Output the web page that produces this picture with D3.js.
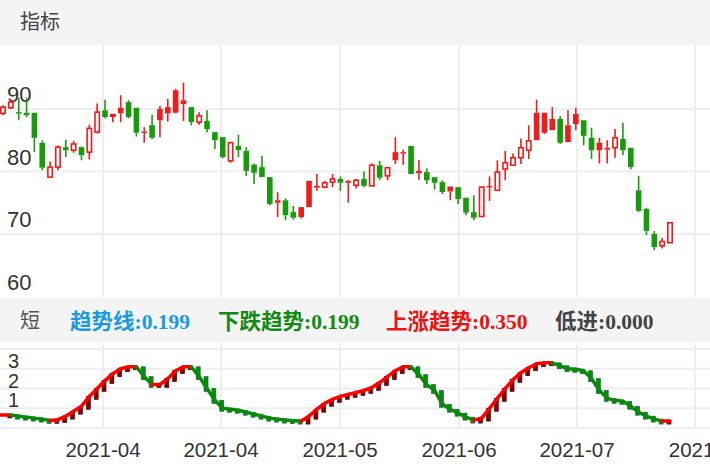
<!DOCTYPE html>
<html><head><meta charset="utf-8">
<script src="https://cdn.jsdelivr.net/npm/d3@7"></script>
<style>body{margin:0;background:#fff}svg{display:block}</style>
</head><body>
<svg id="c" width="710" height="472"></svg>
<script>
// OHLC per candle
const opens  = [89.3,90.2,89.5,89.4,89.4,84.6,79.1,80.7,83.9,83.4,83.9,83.1,86.3,89.8,89.0,90.2,91.1,90.2,86.4,87.4,90.0,90.3,93.0,91.4,90.3,87.9,88.1,86.3,85.5,81.7,84.1,83.3,81.1,80.7,79.1,75.4,75.4,73.5,74.3,78.5,77.7,77.5,78.3,78.8,78.5,77.8,78.8,77.7,81.0,79.3,83.1,83.1,84.1,80.1,79.9,79.1,78.3,77.6,77.5,75.8,73.5,72.8,77.7,77.0,80.4,81.0,82.2,83.4,89.4,89.4,88.4,88.4,87.4,89.2,88.2,85.4,84.6,83.8,83.8,85.2,83.8,77.0,74.0,70.0,68.1,68.6];
const closes = [90.3,91.1,89.3,89.0,85.4,80.6,80.7,83.9,83.4,84.4,82.6,86.9,89.5,88.7,89.1,89.3,88.7,86.2,86.3,85.4,88.2,89.3,89.4,90.8,87.9,88.9,86.8,85.0,82.3,84.6,83.4,80.1,79.8,79.1,74.8,75.0,73.0,72.6,72.7,74.3,77.4,78.2,78.8,78.2,78.2,78.6,77.7,81.0,79.0,80.6,81.8,82.9,79.6,79.7,78.6,78.2,76.7,76.8,75.6,73.4,72.6,77.5,77.5,79.9,81.4,82.2,83.8,84.9,85.0,86.2,86.6,84.6,84.7,87.6,85.7,83.4,83.4,83.5,85.4,83.4,80.7,73.7,70.5,67.9,68.8,71.8];
const highs  = [90.6,91.5,91.8,91.8,89.4,85.0,81.6,84.2,85.1,84.9,84.0,87.5,90.9,91.5,89.2,92.2,91.4,90.2,87.1,89.1,90.5,91.6,93.2,94.2,90.3,89.5,89.8,86.3,85.5,84.8,85.9,83.9,81.3,82.5,79.1,76.7,75.7,74.5,74.3,78.5,79.6,78.5,79.6,79.2,78.6,78.8,80.0,81.3,81.7,80.6,85.5,83.5,84.1,81.8,80.5,79.1,78.6,77.6,77.5,75.8,76.2,77.5,79.2,81.8,83.3,82.9,85.3,87.4,91.5,89.4,90.3,88.9,89.8,90.2,88.2,87.0,85.4,85.0,86.8,87.8,83.8,79.3,74.2,70.5,69.4,71.8];
const lows   = [89.0,90.0,88.2,88.7,83.1,80.2,79.1,80.2,82.3,83.0,81.8,81.9,86.1,88.5,87.9,87.9,88.5,85.6,84.6,85.2,85.5,88.0,89.3,88.1,87.4,87.5,86.3,83.6,82.1,81.4,82.3,79.3,78.0,79.1,74.6,72.7,72.2,72.3,72.5,74.3,76.9,77.3,77.5,76.9,75.0,77.3,77.5,77.7,78.6,78.6,81.2,81.1,79.6,78.7,78.0,77.1,76.4,75.4,74.8,73.0,72.2,72.8,75.3,77.0,78.6,80.9,81.2,82.0,85.0,86.0,86.6,84.4,84.7,86.6,84.2,82.0,81.3,81.3,82.2,82.6,80.4,73.5,69.8,67.4,67.7,68.6];
// trend indicator
const trend = [0.66,0.66,0.6,0.55,0.5,0.45,0.38,0.42,0.6,0.85,1.1,1.6,2.0,2.4,2.75,3.0,3.1,3.1,2.6,2.2,2.2,2.5,2.9,3.1,3.1,2.6,2.0,1.4,1.0,0.95,0.9,0.8,0.7,0.6,0.5,0.45,0.4,0.37,0.35,0.6,0.95,1.25,1.45,1.6,1.7,1.8,1.9,2.05,2.3,2.6,2.9,3.1,3.1,2.7,2.2,1.9,1.2,0.95,0.75,0.55,0.4,0.5,1.0,1.5,2.0,2.45,2.8,3.05,3.25,3.3,3.3,3.15,3.0,2.97,2.9,2.5,1.9,1.5,1.4,1.35,1.1,0.8,0.6,0.45,0.35,0.36];
const priceTicks = [90,80,70,60];
const trendTicks = [3,2,1];
const dateLabels = ["2021-04","2021-04","2021-05","2021-06","2021-07","2021-"];
const legend = [["趋势线:0.199","#1a9be0"],["下跌趋势:0.199","#138a13"],["上涨趋势:0.350","#ee1111"],["低进:0.000","#444"]];

const svg = d3.select("#c");
const W = 710, N = opens.length;
const x = d3.scaleLinear().domain([0, N-1]).range([3, 670]);
const y = d3.scaleLinear().domain([60, 90]).range([296.5, 109]);
const yt = d3.scaleLinear().domain([0, 4]).range([428, 349]);
const RED = "#ee1c1c", GREEN = "#169c0a", GRID = "#eeeeee";

// bands
svg.append("rect").attr("x",0).attr("y",0).attr("width",W).attr("height",45).attr("fill","#f4f4f4");
svg.append("rect").attr("x",0).attr("y",298).attr("width",W).attr("height",44).attr("fill","#f4f4f4");
svg.append("text").attr("x",20).attr("y",29).attr("font-size",20).attr("fill","#444").attr("font-family","Noto Sans CJK SC").text("指标");
svg.append("text").attr("x",20).attr("y",328).attr("font-size",20).attr("fill","#555").attr("font-family","Noto Sans CJK SC").text("短");
const lxs=[70,218,386,555];
legend.forEach((d,i)=>svg.append("text").attr("x",lxs[i]).attr("y",329).attr("font-size",21.5).attr("font-weight","bold")
  .attr("fill",d[1]).attr("font-family","Liberation Serif, Noto Sans CJK SC").text(d[0]));

// grids
const vg = [103,221,340,459,577,695];
vg.forEach(v=>{
  svg.append("line").attr("x1",v).attr("x2",v).attr("y1",45).attr("y2",297).attr("stroke",GRID).attr("stroke-width",2);
  svg.append("line").attr("x1",v).attr("x2",v).attr("y1",343).attr("y2",428).attr("stroke",GRID).attr("stroke-width",2);
});
[90,80,70].forEach(t=>svg.append("line").attr("x1",0).attr("x2",W).attr("y1",y(t)).attr("y2",y(t)).attr("stroke",GRID).attr("stroke-width",2));
[4,3,2,1,0].forEach(t=>svg.append("line").attr("x1",0).attr("x2",W).attr("y1",yt(t)).attr("y2",yt(t)).attr("stroke",GRID).attr("stroke-width",2));

priceTicks.forEach(t=>svg.append("text").attr("x",7).attr("y",y(t)-7).attr("font-size",22).attr("fill","#333").attr("font-family","Liberation Sans").text(t));
trendTicks.forEach(t=>svg.append("text").attr("x",8).attr("y",yt(t)-1).attr("font-size",20).attr("fill","#333").attr("font-family","Liberation Sans").text(t));
dateLabels.forEach((t,i)=>svg.append("text").attr("x",vg[i]).attr("y",457).attr("text-anchor","middle").attr("font-size",20.5).attr("fill","#333").attr("font-family","Liberation Sans").text(t));

// candles
const g = svg.append("g");
for (let i=0;i<N;i++){
  const o=opens[i], c=closes[i];
  const up = i===0 ? c>=o : c>=closes[i-1];
  const col = up?RED:GREEN;
  const hollow = c>o;
  const cx = x(i);
  g.append("line").attr("x1",cx).attr("x2",cx).attr("y1",y(highs[i])).attr("y2",y(Math.max(o,c))).attr("stroke",col).attr("stroke-width",1.6);
  g.append("line").attr("x1",cx).attr("x2",cx).attr("y1",y(Math.min(o,c))).attr("y2",y(lows[i])).attr("stroke",col).attr("stroke-width",1.6);
  const top=y(Math.max(o,c)), h=Math.max(1.5,y(Math.min(o,c))-top);
  if (hollow) g.append("rect").attr("x",cx-2.2).attr("y",top).attr("width",4.4).attr("height",h).attr("fill","#fff").attr("stroke",col).attr("stroke-width",1.6);
  else g.append("rect").attr("x",cx-2.8).attr("y",top).attr("width",5.6).attr("height",h).attr("fill",col);
}

// trend panel
const tg = svg.append("g");
for (let i=1;i<N;i++){
  const a=trend[i-1], b=trend[i], rising=b>=a;
  tg.append("rect").attr("x",x(i)-3).attr("y",yt(Math.max(a,b))).attr("width",4).attr("height",Math.max(2,Math.abs(yt(a)-yt(b))+3))
    .attr("fill",rising?"#8b0000":"#0a8a0a").attr("stroke",rising?"#400":"#063").attr("stroke-width",0.6);
}
for (let i=1;i<N;i++){
  const a=trend[i-1], b=trend[i], rising=b>=a;
  tg.append("line").attr("x1",x(i-1)).attr("x2",x(i)).attr("y1",yt(a)).attr("y2",yt(b))
    .attr("stroke",rising?"#ff0000":"#0a8a0a").attr("stroke-width",3.5).attr("stroke-linecap","round");
}
tg.append("line").attr("x1",0).attr("x2",x(0)).attr("y1",yt(trend[0])).attr("y2",yt(trend[0])).attr("stroke","#ff0000").attr("stroke-width",3.5);
</script>
</body></html>
